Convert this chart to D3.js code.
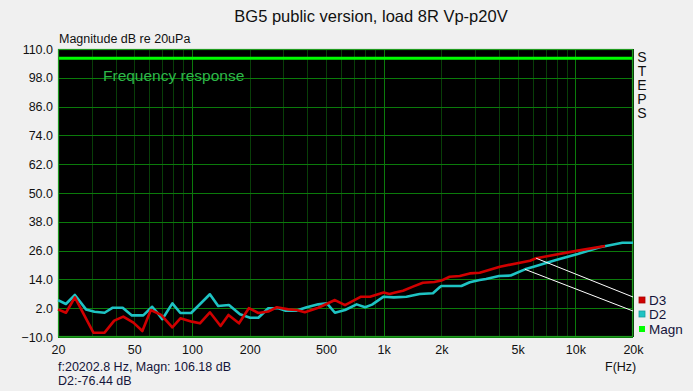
<!DOCTYPE html>
<html><head><meta charset="utf-8">
<script src="https://cdn.jsdelivr.net/npm/d3@7"></script>
<style>body{margin:0;background:#f0f0f0;}svg{display:block;font-family:"Liberation Sans",Arial,sans-serif;}</style>
</head><body><svg id="c" width="693" height="391"></svg>
<script>
const title = "BG5 public version, load 8R Vp-p20V";
const yLabel = "Magnitude dB re 20uPa";
const xLabel = "F(Hz)";
const yTicks = [110, 98, 86, 74, 62, 50, 38, 26, 14, 2, -10];
const xTicks = [20, 50, 100, 200, 500, 1000, 2000, 5000, 10000, 20000];
const xTickLabels = ["20", "50", "100", "200", "500", "1k", "2k", "5k", "10k", "20k"];
const magnValue = 106.18;
const d2Freq = [20,22,24.5,28,31,35,38.6,43.5,48.6,55.7,62,66,70,79,87,99,124,137,156,178,201,222,250,283,306,352,397,456,506,557,629,723,801,870,1000,1130,1315,1540,1808,1960,2000,2545,2814,3170,3420,4000,4600,5460,6250,7930,10300,13400,17600,20000];
const d2Vals = [5.4,3.75,7.5,1.5,0.5,0.1,2.2,2.2,-1,-1,2.6,0.1,-2.6,4,0,0,7.8,2.9,3.3,-0.5,-2,-2,2,2,1,1,2.4,3.6,4,0.1,1.25,3.6,2.4,3.5,6.8,6.5,6.8,7.9,8.2,10.7,11.25,11.25,12.8,13.75,14.2,15.4,15.6,18.2,19.6,22.1,24.6,27.4,29.3,29.3];
const d3Freq = [20,22,24.5,30.6,35,39.3,43.8,49.5,55.1,61,69,79,87,100,110,124,141,155,176,198,222,250,277,318,352,388,456,557,629,762,849,1000,1074,1150,1262,1422,1602,1840,2000,2209,2495,2814,3170,4040,5800,6250,10300,14300];
const d3Vals = [1.5,0.1,6.5,-8.2,-8.2,-3.2,-1.5,-4,-7.5,1.25,-0.8,-6,-2.2,-3.6,-4.3,0.3,-5.4,-0.8,-4.3,2,0,0.6,2.4,1.5,1.25,0.3,2.2,5.4,3.3,6.8,6.8,8.5,7.9,8.5,9.3,11,12.6,12.9,13.5,15.1,15.4,16.5,16.8,19.3,21.8,22.8,26,27.9];
const legendNames = ["D3", "D2", "Magn"];
const cursorFreqs = [6250, 5460];

const svg = d3.select("#c");
const L = 58, R = 633, T = 49, B = 337;
const x = d3.scaleLog().domain([20, 20000]).range([L, R]);
const y = d3.scaleLinear().domain([-10, 110]).range([B, T]);

svg.append("rect").attr("width", 693).attr("height", 391).attr("fill", "#f0f0f0");
svg.append("rect").attr("x", L).attr("y", T).attr("width", R - L).attr("height", B - T).attr("fill", "#000");

// vertical grid
const minor = [];
[10, 100, 1000, 10000].forEach(dec => { for (let k = 1; k <= 9; k++) { const f = dec * k; if (f >= 20 && f <= 20000) minor.push(f); } });
minor.push(20000);
const g = svg.append("g");
minor.forEach(f => {
  const major = [100, 1000, 10000].includes(f);
  g.append("line").attr("x1", Math.round(x(f)) + 0.5).attr("x2", Math.round(x(f)) + 0.5).attr("y1", T).attr("y2", B)
    .attr("stroke", major ? "#0b7a0b" : "#083e08").attr("stroke-width", 1);
});
yTicks.forEach(v => {
  g.append("line").attr("x1", L).attr("x2", R).attr("y1", Math.round(y(v)) + 0.5).attr("y2", Math.round(y(v)) + 0.5)
    .attr("stroke", "#0b7a0b").attr("stroke-width", 1);
});
svg.append("rect").attr("x", L + 0.5).attr("y", T + 0.5).attr("width", R - L - 1).attr("height", B - T - 1)
  .attr("fill", "none").attr("stroke", "#1f9a1f").attr("stroke-width", 1.2);

// axes labels via d3 axes (no domain line / ticks)
const yAxis = d3.axisLeft(y).tickValues(yTicks).tickFormat(d3.format(".1f")).tickSize(0).tickPadding(5);
const ya = svg.append("g").attr("transform", `translate(${L},0)`).call(yAxis);
ya.select(".domain").remove();
ya.selectAll("text").attr("font-size", 12.5).attr("fill", "#111").attr("font-family", "Liberation Sans, Arial, sans-serif");

const xAxis = d3.axisBottom(x).tickValues(xTicks).tickFormat((d, i) => xTickLabels[i]).tickSize(0).tickPadding(8);
const xa = svg.append("g").attr("transform", `translate(0,${B})`).call(xAxis);
xa.select(".domain").remove();
xa.selectAll("text").attr("font-size", 12.5).attr("fill", "#111").attr("font-family", "Liberation Sans, Arial, sans-serif");

// Magn line
svg.append("line").attr("x1", L + 1).attr("x2", R - 1).attr("y1", y(magnValue)).attr("y2", y(magnValue))
  .attr("stroke", "#00ff00").attr("stroke-width", 3);

const line = d3.line().x(d => x(d[0])).y(d => y(d[1]));
const d2Data = d2Freq.map((f, i) => [f, d2Vals[i]]);
const d3Data = d3Freq.map((f, i) => [f, d3Vals[i]]);
svg.append("path").attr("d", line(d2Data)).attr("fill", "none").attr("stroke", "#1ec3c3").attr("stroke-width", 2.6).attr("stroke-linejoin", "round");
svg.append("path").attr("d", line(d3Data)).attr("fill", "none").attr("stroke", "#d00000").attr("stroke-width", 2.6).attr("stroke-linejoin", "round");

// text
svg.append("text").attr("x", 371).attr("y", 22).attr("text-anchor", "middle").attr("font-size", 16.5).attr("fill", "#111").text(title);
svg.append("text").attr("x", 59).attr("y", 43).attr("font-size", 12.5).attr("fill", "#111").text(yLabel);
svg.append("text").attr("x", 103).attr("y", 81).attr("font-size", 15.5).attr("fill", "#2eb84a").text("Frequency response");
svg.append("text").attr("x", 642).attr("y", 49).attr("font-size", 14).attr("fill", "#111")
  .style("writing-mode", "vertical-rl").style("text-orientation", "upright").style("letter-spacing", "-2px").text("STEPS");
svg.append("text").attr("x", 605).attr("y", 371).attr("font-size", 12.5).attr("fill", "#111").text(xLabel);
svg.append("text").attr("x", 58).attr("y", 371).attr("font-size", 12.5).attr("fill", "#14143a").text("f:20202.8 Hz, Magn: 106.18 dB");
svg.append("text").attr("x", 58).attr("y", 385).attr("font-size", 12.5).attr("fill", "#14143a").text("D2:-76.44 dB");

// legend
const legColors = ["#d00000", "#1ec3c3", "#00ff00"];
const legY = [300, 314, 329];
legendNames.forEach((n, i) => {
  svg.append("rect").attr("x", 639).attr("y", legY[i] - 3).attr("width", 6).attr("height", 6).attr("fill", legColors[i])
    .attr("stroke", i < 2 ? d3.color(legColors[i]).darker(0.6) : "none").attr("stroke-width", 0.8);
  svg.append("text").attr("x", 649).attr("y", legY[i] + 5).attr("font-size", 13.5).attr("fill", "#14143a").text(n);
});

// cursor pointer lines
const interp = (fs, vs, f) => { for (let i = 1; i < fs.length; i++) if (f <= fs[i]) { const t = (Math.log(f) - Math.log(fs[i-1])) / (Math.log(fs[i]) - Math.log(fs[i-1])); return vs[i-1] + t * (vs[i] - vs[i-1]); } return vs[vs.length - 1]; };
[[d3Freq, d3Vals], [d2Freq, d2Vals]].forEach((s, i) => {
  const f = cursorFreqs[i];
  svg.append("line").attr("x1", x(f)).attr("y1", y(interp(s[0], s[1], f))).attr("x2", R).attr("y2", legY[i] - 3)
    .attr("stroke", "#fff").attr("stroke-width", 1);
});
</script></body></html>
